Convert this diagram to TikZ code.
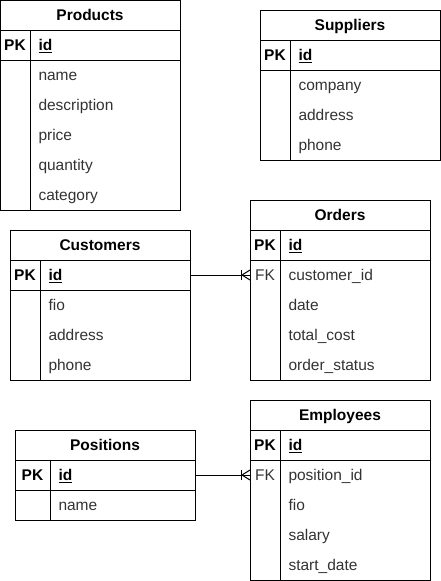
\documentclass[tikz,border=0pt]{standalone}
\usepackage{fontspec}
\setmainfont{Liberation Sans}
\usetikzlibrary{calc}

\tikzset{
    tbl/.style={draw, rectangle, anchor=north west, minimum width=180pt, inner sep=0pt},
    ttl/.style={inner sep=0pt, text height=11pt, text depth=0pt, font=\fontsize{15.5pt}{18pt}\selectfont\bfseries},
    key/.style={inner sep=0pt, text height=11pt, text depth=0pt, font=\fontsize{15.5pt}{18pt}\selectfont},
    pkkey/.style={key, font=\fontsize{15.5pt}{18pt}\selectfont\bfseries},
    fld/.style={anchor=west, inner sep=0pt, text height=11pt, text depth=0pt, text=black!80, font=\fontsize{15.5pt}{18pt}\selectfont},
    pkfld/.style={fld, text=black, font=\fontsize{15.5pt}{18pt}\selectfont\bfseries},
}

\begin{document}
\begin{tikzpicture}[x=1pt, y=-1pt, line width=1pt]
    \useasboundingbox (0,0) rectangle (441,581);

    % products
    \begin{scope}[shift={(0,0)}]
        \node[tbl, minimum height=210pt] (products) at (0,0) {};
        \node[ttl] (products-title) at (90,15) {Products};
        \draw (0,30) -- (180,30) (0,60) -- (180,60) (30,30) -- (30,210);
        \node[pkkey] (products-pk) at (15,45) {PK};
        \node[pkfld] (products-id) at (38,45) {\underline{id}};
        \foreach \i/\f in {1/name, 2/description, 3/price, 4/quantity, 5/category}
            \node[fld] (products-f\i) at (38,{45+30*\i}) {\f};
    \end{scope}

    % suppliers
    \begin{scope}[shift={(260,10)}]
        \node[tbl, minimum height=150pt] (suppliers) at (0,0) {};
        \node[ttl] (suppliers-title) at (90,15) {Suppliers};
        \draw (0,30) -- (180,30) (0,60) -- (180,60) (30,30) -- (30,150);
        \node[pkkey] (suppliers-pk) at (15,45) {PK};
        \node[pkfld] (suppliers-id) at (38,45) {\underline{id}};
        \foreach \i/\f in {1/company, 2/address, 3/phone}
            \node[fld] (suppliers-f\i) at (38,{45+30*\i}) {\f};
    \end{scope}

    % customers
    \begin{scope}[shift={(10,230)}]
        \node[tbl, minimum height=150pt] (customers) at (0,0) {};
        \node[ttl] (customers-title) at (90,15) {Customers};
        \draw (0,30) -- (180,30) (0,60) -- (180,60) (30,30) -- (30,150);
        \node[pkkey] (customers-pk) at (15,45) {PK};
        \node[pkfld] (customers-id) at (38,45) {\underline{id}};
        \foreach \i/\f in {1/fio, 2/address, 3/phone}
            \node[fld] (customers-f\i) at (38,{45+30*\i}) {\f};
    \end{scope}

    % orders
    \begin{scope}[shift={(250,200)}]
        \node[tbl, minimum height=180pt] (orders) at (0,0) {};
        \node[ttl] (orders-title) at (90,15) {Orders};
        \draw (0,30) -- (180,30) (0,60) -- (180,60) (30,30) -- (30,180);
        \node[pkkey] (orders-pk) at (15,45) {PK};
        \node[pkfld] (orders-id) at (38,45) {\underline{id}};
        \node[key, text=black!80] (orders-fk) at (15,75) {FK};
        \foreach \i/\f in {1/customer\_id, 2/date, 3/total\_cost, 4/order\_status}
            \node[fld] (orders-f\i) at (38,{45+30*\i}) {\f};
    \end{scope}

    % positions
    \begin{scope}[shift={(15,430)}]
        \node[tbl, minimum height=90pt] (positions) at (0,0) {};
        \node[ttl] (positions-title) at (90,15) {Positions};
        \draw (0,30) -- (180,30) (0,60) -- (180,60) (35,30) -- (35,90);
        \node[pkkey] (positions-pk) at (17.5,45) {PK};
        \node[pkfld] (positions-id) at (43,45) {\underline{id}};
        \node[fld] (positions-f1) at (43,75) {name};
    \end{scope}

    % employees
    \begin{scope}[shift={(250,400)}]
        \node[tbl, minimum height=180pt] (employees) at (0,0) {};
        \node[ttl] (employees-title) at (90,15) {Employees};
        \draw (0,30) -- (180,30) (0,60) -- (180,60) (30,30) -- (30,180);
        \node[pkkey] (employees-pk) at (15,45) {PK};
        \node[pkfld] (employees-id) at (38,45) {\underline{id}};
        \node[key, text=black!80] (employees-fk) at (15,75) {FK};
        \foreach \i/\f in {1/position\_id, 2/fio, 3/salary, 4/start\_date}
            \node[fld] (employees-f\i) at (38,{45+30*\i}) {\f};
    \end{scope}

    % relations, crow's foot at the many side
    \foreach \one/\many in {customers/orders, positions/employees} {
        \coordinate (\many-end) at (\many.west |- \many-fk);
        \draw (\one.east |- \one-id) -- (\many-end);
        \draw ($(\many-end)+(-9,-5)$) -- ($(\many-end)+(-9,5)$);
        \draw ($(\many-end)+(0,-5)$) -- ($(\many-end)+(-8,0)$) -- ($(\many-end)+(0,5)$);
    }
\end{tikzpicture}
\end{document}
